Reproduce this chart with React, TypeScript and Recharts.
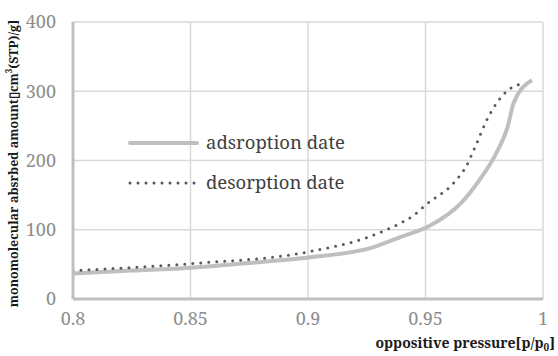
import { CartesianGrid, Line, LineChart, XAxis, YAxis } from "recharts";

const adsPressure = [0.8, 0.825, 0.85, 0.875, 0.9, 0.928, 0.939, 0.952, 0.965, 0.973, 0.98, 0.985, 0.9875, 0.9953];
const adsAmount = [37, 41, 45, 52, 60, 75, 89, 106, 138, 172, 210, 249, 283, 316];

const desPressure = [0.8, 0.85, 0.9, 0.926, 0.936, 0.945, 0.9505, 0.9618, 0.9675, 0.9718, 0.976, 0.9803, 0.9846, 0.9923];
const desAmount = [41, 51, 68, 90, 104, 121, 137, 167, 193, 225, 258, 283, 300, 312];

const xTicks = [0.8, 0.85, 0.9, 0.95, 1];
const yTicks = [0, 100, 200, 300, 400];

const SERIES = [
  { key: "ads", label: "adsroption date", color: "#bfbfbf", width: 4, dash: undefined as string | undefined },
  { key: "des", label: "desorption date", color: "#595959", width: 3, dash: "0 8" },
];

const adsData = adsPressure.map((p, i) => ({ p, ads: adsAmount[i] }));
const desData = desPressure.map((p, i) => ({ p, des: desAmount[i] }));

const FONT = "'Noto Serif', 'Liberation Serif', serif";

// legend sits inside the plot, drawn as an overlay so it takes no room from the chart
function LegendBox() {
  return (
    <svg
      width={280}
      height={100}
      style={{ position: "absolute", left: 126, top: 116, overflow: "visible" }}
    >
      {SERIES.map((s, i) => (
        <g key={s.key} transform={`translate(0, ${27 + i * 40})`}>
          <line
            x1={4}
            x2={71}
            y1={0}
            y2={0}
            stroke={s.color}
            strokeWidth={s.width}
            strokeDasharray={s.dash}
            strokeLinecap="round"
          />
          <text x={80} y={6} fontSize={18.5} fill="#404040" style={{ fontFamily: FONT }}>
            {s.label}
          </text>
        </g>
      ))}
    </svg>
  );
}

function XTitle(props: any) {
  const vb = props.viewBox;
  return (
    <text
      x={vb.x + vb.width + 12}
      y={348}
      textAnchor="end"
      fontSize={14}
      fontWeight="bold"
      fill="#1a1a1a"
      style={{ fontFamily: FONT }}
    >
      oppositive pressure[p/p<tspan fontSize={10} dy={3}>0</tspan>
      <tspan dy={-3}>]</tspan>
    </text>
  );
}

function YTitle(props: any) {
  const vb = props.viewBox;
  const cy = vb.y + vb.height / 2 + 3;
  return (
    <text
      x={13}
      y={cy}
      transform={`rotate(-90 13 ${cy})`}
      textAnchor="middle"
      dominantBaseline="central"
      fontSize={12.5}
      fontWeight="bold"
      fill="#1a1a1a"
      style={{ fontFamily: FONT }}
    >
      monomolecular absrbed amount{"\u25AF"}cm<tspan fontSize={8} dy={-5}>3</tspan>
      <tspan dy={5}>(STP)/g]</tspan>
    </text>
  );
}

const tickStyle = { fill: "#8c8c8c", fontSize: 18, fontFamily: FONT };

export default function App() {
  return (
    <div
      style={{
        position: "absolute",
        left: 0,
        top: 0,
        width: 558,
        height: 356,
        background: "#fff",
        fontFamily: FONT,
      }}
    >
      <LineChart
        width={558}
        height={356}
        margin={{ top: 22, right: 15, bottom: 0, left: 0 }}
        style={{ fontFamily: FONT }}
      >
        <CartesianGrid stroke="#d9d9d9" strokeWidth={1.5} />
        <XAxis
          dataKey="p"
          type="number"
          domain={[0.8, 1]}
          ticks={xTicks}
          allowDataOverflow
          stroke="#bfbfbf"
          strokeWidth={3}
          tickLine={false}
          tickSize={0}
          tickMargin={13}
          tick={tickStyle}
          height={57}
          label={<XTitle />}
        />
        <YAxis
          type="number"
          domain={[0, 400]}
          ticks={yTicks}
          stroke="#bfbfbf"
          strokeWidth={3}
          tickLine={false}
          tickSize={0}
          tickMargin={17}
          tick={tickStyle}
          width={73}
          label={<YTitle />}
        />
        <Line
          data={adsData}
          dataKey="ads"
          type="monotone"
          stroke="#bfbfbf"
          strokeWidth={4}
          dot={false}
          isAnimationActive={false}
        />
        <Line
          data={desData}
          dataKey="des"
          type="monotone"
          stroke="#595959"
          strokeWidth={3}
          strokeDasharray="0 8"
          strokeLinecap="round"
          dot={false}
          isAnimationActive={false}
        />
      </LineChart>
      <LegendBox />
    </div>
  );
}
